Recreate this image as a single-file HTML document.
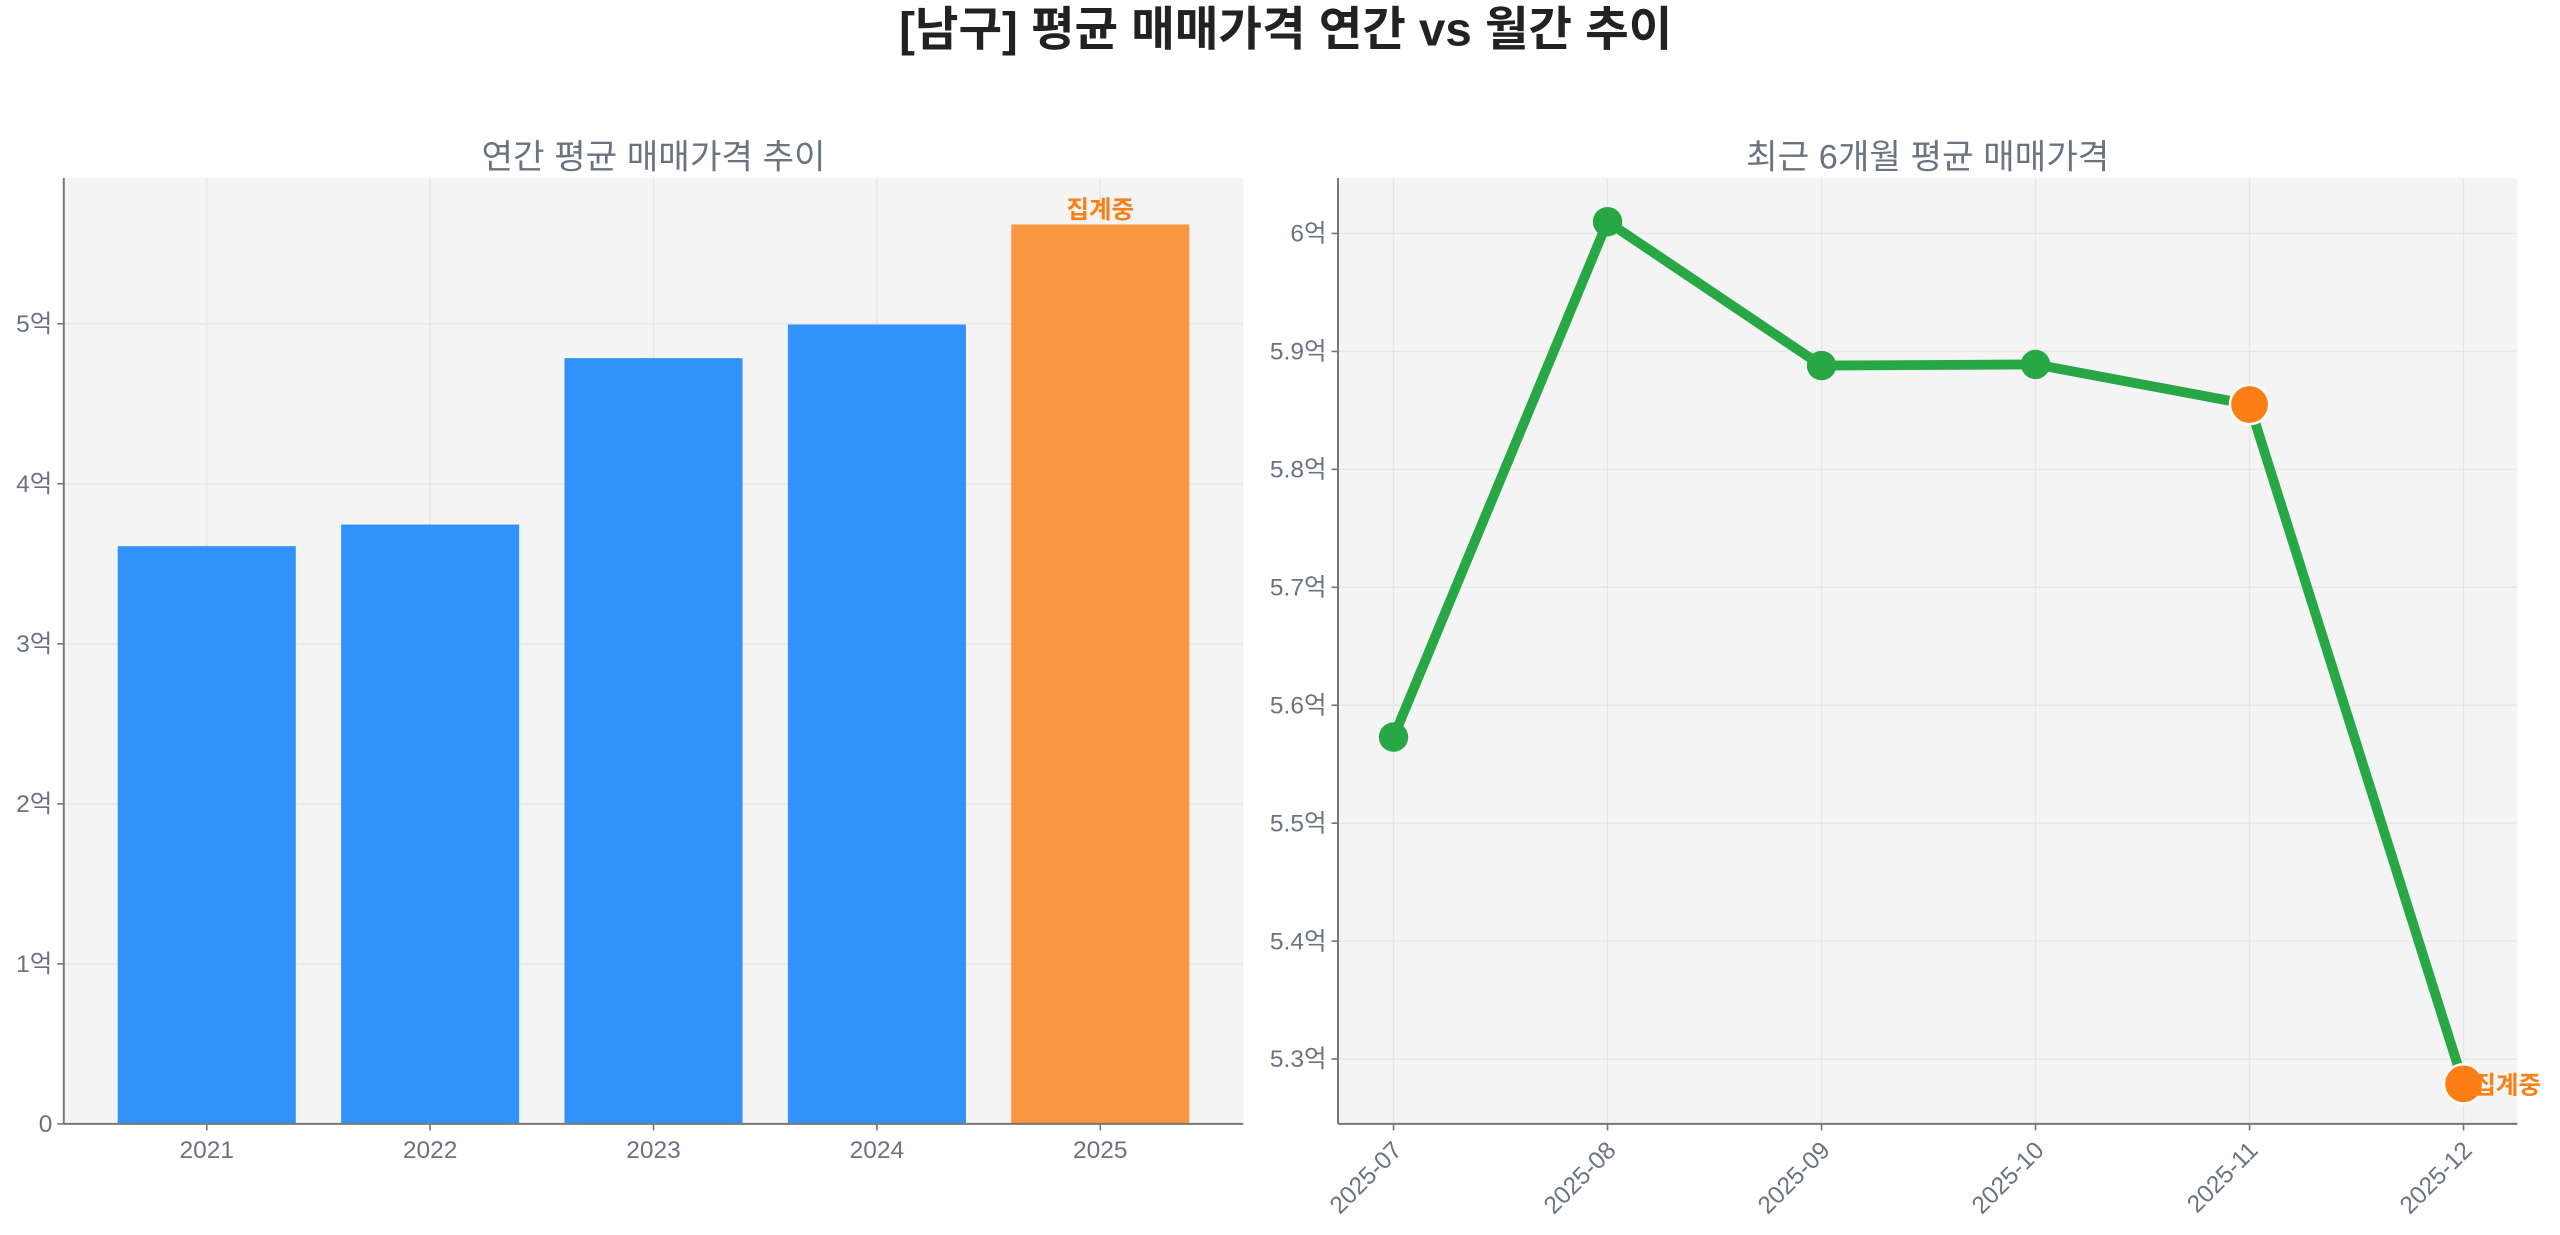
<!DOCTYPE html>
<html><head><meta charset="utf-8"><style>
html,body{margin:0;padding:0;background:#fff;}
svg{display:block;font-family:"Liberation Sans","Noto Sans CJK KR",sans-serif;}
</style></head><body>
<svg id="chart" width="2560" height="1235" viewBox="0 0 1567 756" xmlns="http://www.w3.org/2000/svg">
<text x="787" y="28" text-anchor="middle" font-size="29" font-weight="bold" fill="#222">[남구] 평균 매매가격 연간 vs 월간 추이</text>
<text x="400" y="103" text-anchor="middle" font-size="21" fill="#6b7280">연간 평균 매매가격 추이</text>
<text x="1180" y="103" text-anchor="middle" font-size="21" fill="#6b7280">최근 6개월 평균 매매가격</text>
<g id="left"></g>
<g id="right"></g>
</svg>
<script>
const years = ['2021','2022','2023','2024','2025'];
const annualValues = [3.61, 3.745, 4.785, 4.995, 5.62];
const annualTicks = [0,1,2,3,4,5];
const months = ['2025-07','2025-08','2025-09','2025-10','2025-11','2025-12'];
const monthlyValues = [5.573, 6.01, 5.888, 5.889, 5.855, 5.279];
const monthlyTicks = [5.3,5.4,5.5,5.6,5.7,5.8,5.9,6.0];
const NS='http://www.w3.org/2000/svg';
function mk(p,t,a){const e=document.createElementNS(NS,t);for(const k in a)e.setAttribute(k,a[k]);p.appendChild(e);return e;}
const GRAY='#6b7280';
// LEFT
const L=document.getElementById('left');
const lx0=39,lx1=761,ly0=109,ly1=688;
const lxs=i=>lx0+(i+0.64)/5.28*(lx1-lx0);
const lys=v=>ly1-v/5.91*(ly1-ly0);
mk(L,'rect',{x:lx0,y:ly0,width:lx1-lx0,height:ly1-ly0,fill:'#f4f4f4'});
annualTicks.forEach(t=>{
  const g=mk(L,'line',{x1:lx0,x2:lx1,y1:lys(t),y2:lys(t),stroke:'#e6e6e6','stroke-width':0.8});
  
  
  mk(L,'line',{x1:lx0-4,x2:lx0,y1:lys(t),y2:lys(t),stroke:'#777'});
  const tx=mk(L,'text',{x:lx0-7,y:lys(t)+5,'text-anchor':'end','font-size':15,fill:GRAY});
  tx.textContent=t===0?'0':t+'억';
  
  
});
years.forEach((y,i)=>{
  mk(L,'line',{x1:lxs(i),x2:lxs(i),y1:ly0,y2:ly1,stroke:'#e6e6e6','stroke-width':0.8});
});
years.forEach((y,i)=>{
  const last=i===years.length-1;
  const r=mk(L,'rect',{x:lxs(i)-54.5,y:lys(annualValues[i]),width:109,height:ly1-lys(annualValues[i]),fill:last?'#f99740':'#3292fc'});
  
  
  mk(L,'line',{x1:lxs(i),x2:lxs(i),y1:ly1,y2:ly1+4,stroke:'#777'});
  const tx=mk(L,'text',{x:lxs(i),y:ly1+21,'text-anchor':'middle','font-size':15,fill:GRAY});
  tx.textContent=y;
  
  
  if(last){const a=mk(L,'text',{x:lxs(i),y:lys(annualValues[i])-4,'text-anchor':'middle','font-size':15,'font-weight':'bold',fill:'#f97f16'});a.textContent='집계중';
  
  }
});
mk(L,'line',{x1:lx0,x2:lx0,y1:ly0,y2:ly1,stroke:'#777','stroke-width':1.2});
mk(L,'line',{x1:lx0,x2:lx1,y1:ly1,y2:ly1,stroke:'#777','stroke-width':1.2});
// RIGHT
const R=document.getElementById('right');
const rx0=819,rx1=1541,ry0=109,ry1=688;
const rxs=i=>853+i*131;
const rys=v=>ry1-(v-5.245)/(6.047-5.245)*(ry1-ry0);
mk(R,'rect',{x:rx0,y:ry0,width:rx1-rx0,height:ry1-ry0,fill:'#f4f4f4'});
monthlyTicks.forEach(t=>{
  const g=mk(R,'line',{x1:rx0,x2:rx1,y1:rys(t),y2:rys(t),stroke:'#e6e6e6','stroke-width':0.8});
  
  
  mk(R,'line',{x1:rx0-4,x2:rx0,y1:rys(t),y2:rys(t),stroke:'#777'});
  const tx=mk(R,'text',{x:rx0-7,y:rys(t)+5,'text-anchor':'end','font-size':15,fill:GRAY});
  tx.textContent=(t===6?'6':t.toFixed(1))+'억';
  
  
});
months.forEach((m,i)=>{
  mk(R,'line',{x1:rxs(i),x2:rxs(i),y1:ry0,y2:ry1,stroke:'#e6e6e6','stroke-width':0.8});
  mk(R,'line',{x1:rxs(i),x2:rxs(i),y1:ry1,y2:ry1+4,stroke:'#777'});
  const tx=mk(R,'text',{x:rxs(i)+6,y:ry1+17,'text-anchor':'end','font-size':15,fill:GRAY,transform:`rotate(-45 ${rxs(i)+6} ${ry1+17})`});
  tx.textContent=m;
  
  
});
const pl=mk(R,'polyline',{points:monthlyValues.map((v,i)=>rxs(i)+','+rys(v)).join(' '),fill:'none',stroke:'#28a745','stroke-width':6,'stroke-linejoin':'round'});


monthlyValues.forEach((v,i)=>{
  const hot=i>=monthlyValues.length-2;
  const c=mk(R,'circle',{cx:rxs(i),cy:rys(v),r:hot?12:9,fill:hot?'#fd7e14':'#28a745',stroke:hot?'#fff':'none','stroke-width':1.5});
  
  
});
const lastI=monthlyValues.length-1;
const lab=mk(R,'text',{x:rxs(lastI)+6,y:rys(monthlyValues[lastI])+6,'font-size':15,'font-weight':'bold',fill:'#f97f16'});
lab.textContent='집계중';


mk(R,'line',{x1:rx0,x2:rx0,y1:ry0,y2:ry1,stroke:'#777','stroke-width':1.2});
mk(R,'line',{x1:rx0,x2:rx1,y1:ry1,y2:ry1,stroke:'#777','stroke-width':1.2});
</script>
</body></html>
